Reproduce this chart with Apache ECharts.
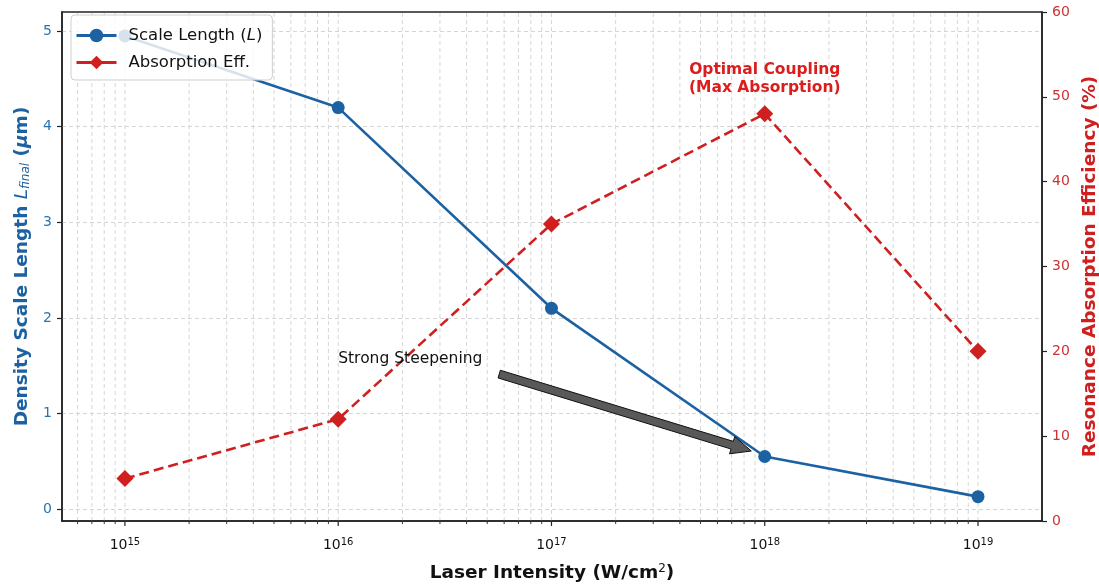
<!DOCTYPE html>
<html>
<head>
<meta charset="utf-8">
<script src="https://cdn.jsdelivr.net/npm/echarts@6/dist/echarts.min.js"></script>
<style>
html,body{margin:0;padding:0;background:#fff;}
#chart{width:1099px;height:587px;}
</style>
</head>
<body>
<div id="chart"></div>
<script>
// ---- data ----
const intensity = [1e15, 1e16, 1e17, 1e18, 1e19];          // W/cm^2
const scaleLength = [4.95, 4.2, 2.1, 0.55, 0.13];            // um
const absorption = [5, 12, 35, 48, 20];                       // %
const leftTicks = [0, 1, 2, 3, 4, 5];
const rightTicks = [0, 10, 20, 30, 40, 50, 60];
const seriesNames = ['Scale Length', 'Absorption Eff.'];
const annotSteep = { text: 'Strong Steepening', at: [1e16, 1.57], tail: [Math.pow(10, 16.755), 1.412], head: [Math.pow(10, 17.937), 0.607] };
const annotOptimal = { text: 'Optimal Coupling\n(Max Absorption)', at: [1e18, 52.1] };

const X_MIN = Math.pow(10, 14.705), X_MAX = Math.pow(10, 19.3);
const YL_MIN = -0.125, YL_MAX = 5.2;

// log grid / tick positions
const majorX = [], minorX = [];
for (let n = 14; n <= 19; n++) {
  for (let k = 1; k <= 9; k++) {
    const v = k * Math.pow(10, n);
    if (v < X_MIN || v > X_MAX) continue;
    (k === 1 ? majorX : minorX).push(v);
  }
}
const allGridX = majorX.concat(minorX);

const BLUE = '#1c62a2', RED = '#cf1f1f';
const FONT = 'DejaVu Sans';

const chart = echarts.init(document.getElementById('chart'), null, { renderer: 'canvas' });

const option = {
  backgroundColor: '#fff',
  animation: false,
  textStyle: { fontFamily: FONT },
  grid: { left: 62, right: 57, top: 12, bottom: 66, containLabel: false, outerBoundsMode: 'none',
    show: true, borderColor: '#222', borderWidth: 1.5, backgroundColor: 'transparent' },
  legend: {
    data: seriesNames,
    orient: 'vertical',
    left: 71, top: 15,
    padding: [12, 10, 9, 4],
    itemGap: 10,
    itemWidth: 40, itemHeight: 17,
    backgroundColor: 'rgba(255,255,255,0.82)',
    borderColor: '#cfcfcf', borderWidth: 1, borderRadius: 4,
    lineStyle: { type: 'solid', width: 3 },
    formatter: function (name) { return name === 'Scale Length' ? 'Scale Length ({i|L})' : name; },
    textStyle: { fontFamily: FONT, fontSize: 16.5, color: '#111', padding: [0, 0, 0, 7],
      rich: { i: { fontStyle: 'italic', fontFamily: FONT, fontSize: 16.5, color: '#111' } } }
  },
  xAxis: {
    type: 'log', logBase: 10, min: X_MIN, max: X_MAX,
    name: 'Laser Intensity (W/cm{sup|2})',
    nameLocation: 'middle', nameGap: 42,
    nameTextStyle: { fontFamily: FONT, fontSize: 18.5, fontWeight: 'bold', color: '#111',
      rich: { sup: { fontSize: 12, fontWeight: 'normal', verticalAlign: 'top', color: '#111', padding: [0, 0, 8, 0] } } },
    axisLine: { show: true, onZero: false, lineStyle: { color: '#222', width: 1.5 } },
    axisTick: { show: false },
    splitLine: { show: false },
    axisLabel: {
      margin: 16, showMinLabel: false, showMaxLabel: false,
      formatter: function (v) { return '{b|10}{s|' + Math.round(Math.log10(v)) + '}'; },
      rich: { b: { fontFamily: FONT, fontSize: 14, color: '#111' }, s: { fontFamily: FONT, fontSize: 10, color: '#111', verticalAlign: 'top', padding: [0, 0, 7, 0] } }
    }
  },
  yAxis: [
    {
      type: 'value', min: YL_MIN, max: YL_MAX, splitNumber: 5, position: 'left',
      name: 'Density Scale Length {i|L}{sub|final} ({m|μ}m)',
      nameLocation: 'middle', nameGap: 30, nameRotate: 90,
      nameTextStyle: { fontFamily: FONT, fontSize: 18.5, fontWeight: 'bold', color: BLUE,
        rich: {
          i: { fontStyle: 'italic', fontWeight: 'normal', fontSize: 18.5, color: BLUE },
          m: { fontStyle: 'italic', fontWeight: 'bold', fontSize: 18.5, color: BLUE },
          sub: { fontStyle: 'italic', fontWeight: 'normal', fontSize: 12, color: BLUE, verticalAlign: 'bottom', padding: [6, 0, 0, 0] }
        } },
      axisLine: { show: true, lineStyle: { color: '#222', width: 1.5 } },
      axisTick: { show: true, length: 5, lineStyle: { color: '#222', width: 1.2 }, customValues: leftTicks },
      axisLabel: { margin: 10, fontFamily: FONT, fontSize: 14, color: '#2a75b0', customValues: leftTicks },
      splitLine: { show: true, lineStyle: { color: '#d4d4d4', type: [4, 3], width: 1 } }
    },
    {
      type: 'value', min: 0, max: 60, interval: 10, position: 'right',
      name: 'Resonance Absorption Efficiency (%)',
      nameLocation: 'middle', nameGap: 33, nameRotate: 90,
      nameTextStyle: { fontFamily: FONT, fontSize: 18.5, fontWeight: 'bold', color: RED },
      axisLine: { show: true, lineStyle: { color: '#222', width: 1.5 } },
      axisTick: { show: true, length: 5, lineStyle: { color: '#222', width: 1.2 } },
      axisLabel: { margin: 10, fontFamily: FONT, fontSize: 14, color: '#cc3333' },
      splitLine: { show: false }
    }
  ],
  series: [
    {
      type: 'custom', name: 'xgrid', silent: true, z: 0, xAxisIndex: 0, yAxisIndex: 0,
      data: allGridX.map(v => [v]),
      renderItem: function (params, api) {
        const x = api.value(0);
        const p1 = api.coord([x, YL_MIN]), p2 = api.coord([x, YL_MAX]);
        return { type: 'line', shape: { x1: p1[0], y1: p1[1], x2: p2[0], y2: p2[1] },
          style: { stroke: '#d6d6d6', lineWidth: 1, lineDash: [4, 3] } };
      }
    },
    {
      type: 'custom', name: 'xticks', silent: true, z: 5, clip: false, xAxisIndex: 0, yAxisIndex: 0,
      data: majorX.map(v => [v, 1]).concat(minorX.map(v => [v, 0])),
      renderItem: function (params, api) {
        const x = api.value(0), major = api.value(1) === 1;
        const p = api.coord([x, YL_MIN]);
        return { type: 'line', shape: { x1: p[0], y1: p[1], x2: p[0], y2: p[1] + (major ? 5 : 3) },
          style: { stroke: '#222', lineWidth: major ? 1.2 : 0.9 } };
      }
    },
    {
      name: 'Scale Length', type: 'line', xAxisIndex: 0, yAxisIndex: 0, z: 3,
      data: intensity.map((x, i) => [x, scaleLength[i]]),
      color: BLUE,
      lineStyle: { color: BLUE, width: 2.6 },
      itemStyle: { color: BLUE },
      symbol: 'circle', symbolSize: 13
    },
    {
      name: 'Absorption Eff.', type: 'line', xAxisIndex: 0, yAxisIndex: 1, z: 4,
      data: intensity.map((x, i) => [x, absorption[i]]),
      color: RED,
      lineStyle: { color: RED, width: 2.6, type: [10, 5] },
      itemStyle: { color: RED },
      symbol: 'diamond', symbolSize: 17
    },
    {
      type: 'custom', name: 'annot1', silent: true, z: 10, clip: false, xAxisIndex: 0, yAxisIndex: 0,
      data: [[0]],
      renderItem: function (params, api) {
        const t = api.coord(annotSteep.tail), h = api.coord(annotSteep.head), tp = api.coord(annotSteep.at);
        const dx = h[0] - t[0], dy = h[1] - t[1], L = Math.hypot(dx, dy);
        const ux = dx / L, uy = dy / L, px = -uy, py = ux;
        const sw = 4, hw = 9, hl = 20;
        const bx = h[0] - ux * hl, by = h[1] - uy * hl;
        const pts = [
          [t[0] + px * sw, t[1] + py * sw],
          [bx + px * sw, by + py * sw],
          [bx + px * hw, by + py * hw],
          [h[0], h[1]],
          [bx - px * hw, by - py * hw],
          [bx - px * sw, by - py * sw],
          [t[0] - px * sw, t[1] - py * sw]
        ];
        return { type: 'group', children: [
          { type: 'polygon', shape: { points: pts }, style: { fill: '#595959', stroke: '#111', lineWidth: 1 } },
          { type: 'text', x: tp[0], y: tp[1], style: { text: annotSteep.text, fontFamily: FONT, fontSize: 15.5, fill: '#111', textAlign: 'left', textVerticalAlign: 'middle' } }
        ] };
      }
    },
    {
      type: 'custom', name: 'annot2', silent: true, z: 10, clip: false, xAxisIndex: 0, yAxisIndex: 1,
      data: [[0]],
      renderItem: function (params, api) {
        const p = api.coord(annotOptimal.at);
        return { type: 'text', x: p[0], y: p[1], style: { text: annotOptimal.text, fontFamily: FONT, fontSize: 15.5, fontWeight: 'bold', fill: '#dd1c1c', textAlign: 'center', textVerticalAlign: 'middle', lineHeight: 18 } };
      }
    }
  ]
};
chart.setOption(option);
</script>
</body>
</html>
